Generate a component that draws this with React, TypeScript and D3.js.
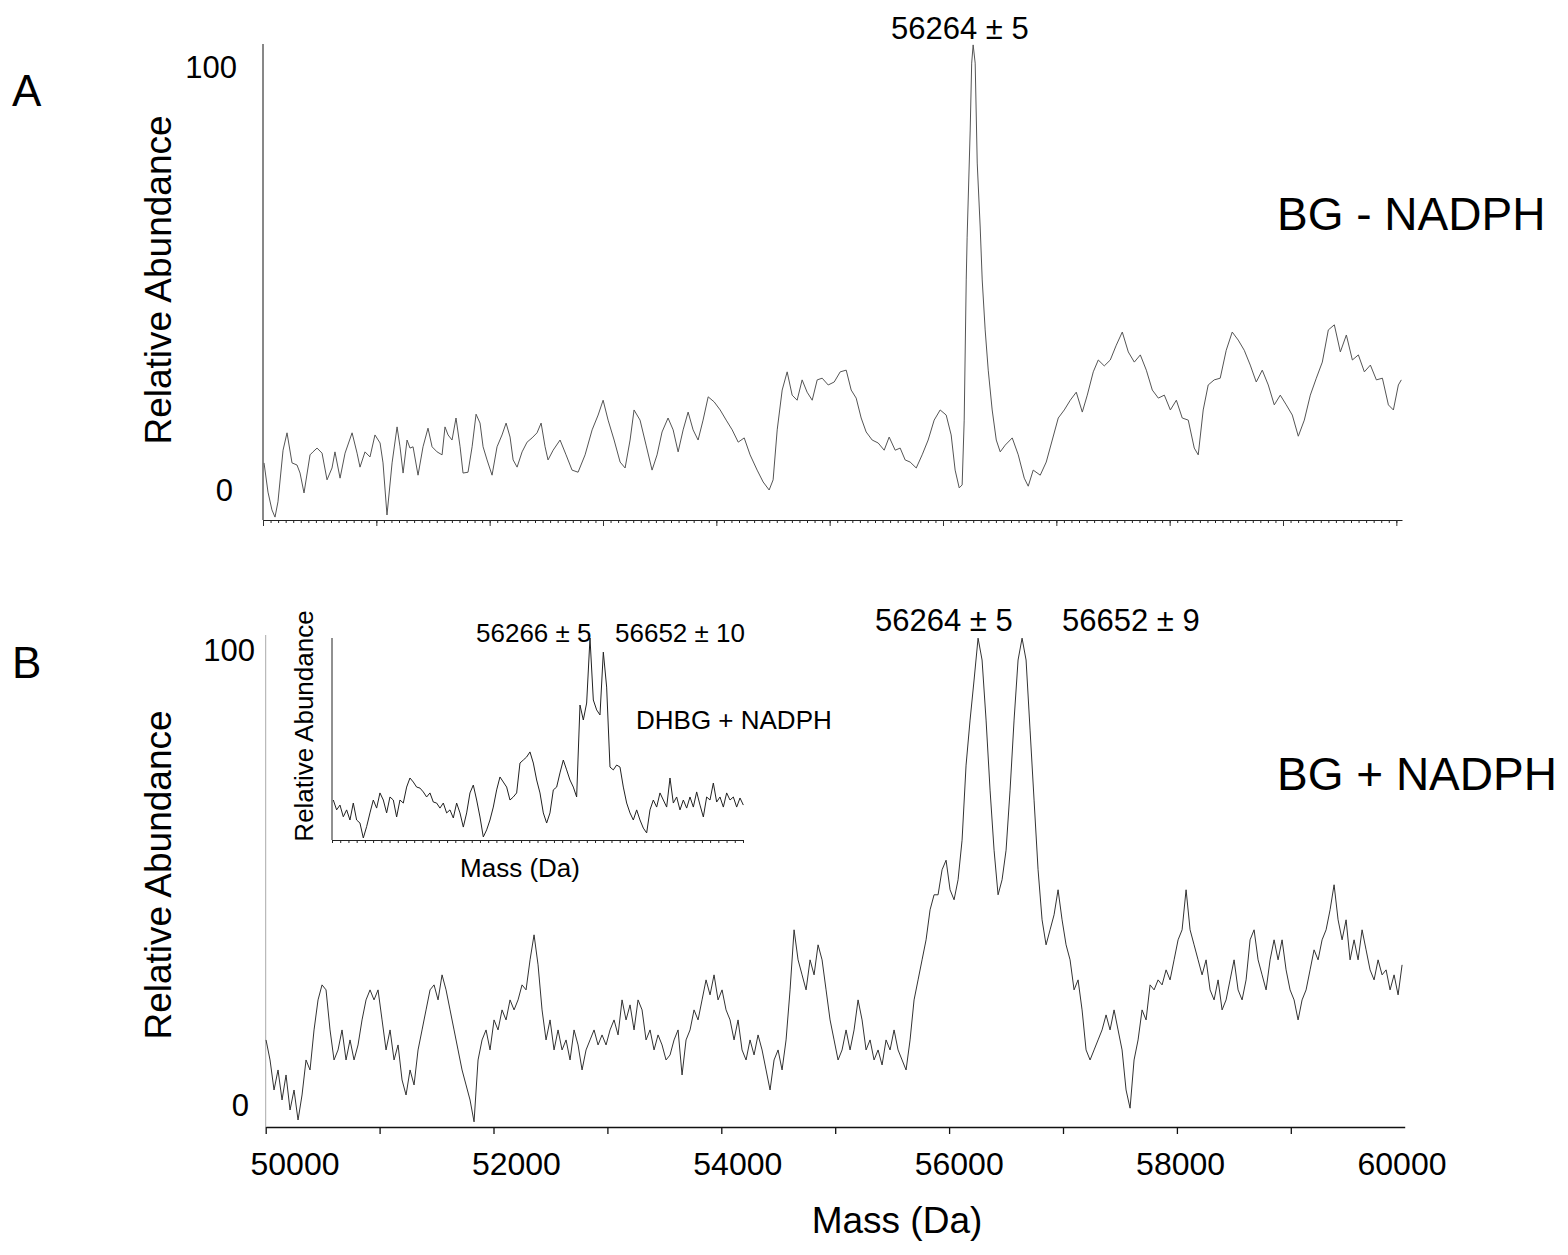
import * as d3 from 'd3';
import React, { useRef, useEffect } from 'react';

// panel A: BG - NADPH (mass in Da, relative abundance in %)
const massA = [50009,50044,50079,50106,50132,50177,50212,50256,50300,50327,50362,50415,50441,50477,50521,50565,50609,50635,50680,50724,50786,50830,50856,50900,50944,50988,51033,51059,51094,51139,51183,51209,51236,51271,51297,51324,51368,51412,51456,51492,51536,51580,51606,51633,51668,51703,51739,51765,51809,51845,51880,51915,51942,51977,52021,52065,52109,52145,52180,52207,52242,52286,52330,52374,52418,52454,52489,52515,52560,52621,52674,52727,52780,52842,52904,52957,53001,53045,53098,53151,53195,53239,53274,53327,53380,53433,53477,53521,53574,53619,53663,53707,53751,53795,53839,53883,53928,53981,54034,54087,54140,54193,54246,54298,54360,54413,54466,54501,54537,54581,54625,54669,54713,54757,54801,54846,54890,54934,54987,55040,55093,55146,55190,55234,55278,55322,55375,55428,55481,55525,55578,55622,55666,55710,55764,55816,55869,55922,55975,56028,56072,56107,56143,56169,56187,56205,56213,56240,56253,56266,56284,56302,56328,56346,56372,56399,56434,56470,56505,56549,56611,56664,56717,56752,56796,56858,56911,56964,57017,57070,57123,57176,57229,57273,57326,57370,57423,57476,57529,57582,57635,57688,57741,57794,57847,57900,57953,58006,58059,58111,58164,58217,58252,58296,58340,58393,58446,58499,58552,58605,58658,58711,58764,58817,58870,58923,58976,59029,59082,59135,59188,59241,59294,59347,59400,59453,59506,59559,59612,59665,59718,59771,59824,59877,59930,59974,60018,60044]
const abundA = [6.4,-0.5,-4.7,-6.4,-2.8,9.4,13.5,6.4,5.9,4.0,-0.7,8.3,9.0,9.9,8.7,2.4,5.2,9.0,2.8,8.7,13.5,8.7,5.4,9.0,7.8,13.0,11.1,6.4,-5.9,6.4,14.9,10.2,4.0,11.8,9.9,10.2,3.5,10.2,14.6,10.2,9.0,8.3,14.9,13.0,11.8,17.0,10.2,4.0,4.2,10.2,17.9,15.8,10.2,7.1,3.5,10.2,13.0,15.8,12.5,7.1,5.4,9.0,11.3,12.3,13.5,15.8,10.2,7.1,9.4,11.8,8.3,4.7,4.2,8.3,14.2,17.7,21.2,16.5,11.8,6.6,5.2,11.8,18.9,16.5,10.6,4.7,8.3,13.7,17.0,14.2,9.0,14.2,18.4,14.2,11.8,16.5,22.0,20.8,18.9,16.5,14.2,11.3,12.3,8.3,4.7,1.9,0,2.4,14.2,23.6,27.9,22.4,21.2,26.0,23.1,21.2,26.0,26.4,24.8,25.5,27.9,28.3,23.6,21.7,17.0,13.7,11.8,11.1,9.4,12.5,9.4,9.9,7.1,6.6,5.2,8.3,11.8,16.5,18.9,17.7,13.0,4.7,0.5,1.2,16.5,49.6,59.7,85.0,100.8,105.1,100.8,77.2,62.1,49.6,37.8,28.3,18.9,11.8,9.0,10.6,12.3,8.3,2.8,0.9,4.7,3.5,6.6,11.8,17.0,18.9,21.2,23.1,18.4,22.4,27.9,30.7,29.3,30.7,34.2,37.3,32.6,30.2,31.9,28.3,23.6,21.7,22.4,18.9,21.2,17.0,16.5,9.9,8.3,18.9,24.8,26.0,26.4,33.0,37.3,35.4,33.0,29.5,25.5,28.3,24.8,20.1,22.4,20.1,17.7,12.7,16.5,22.4,26.4,30.2,37.8,39.0,32.6,36.6,30.7,31.9,27.9,29.5,26.0,26.4,20.1,18.9,24.8,26.0]

// panel B: BG + NADPH, sampled every 35.12 Da from 50003 Da
const startMassB = 50003
const stepMassB = 35.12
const abundB = [
  14.3,9.9,3.3,7.7,1.1,6.6,-1.1,3.3,-3.3,2.2,
  9.9,7.7,16.5,23.1,26.4,25.3,16.5,9.9,12.1,16.5,
  9.9,14.3,9.9,13.2,18.7,23.1,25.3,23.1,25.3,18.7,
  12.1,16.5,9.9,13.2,5.5,2.2,7.7,4.4,12.1,16.5,
  20.9,25.3,26.4,23.1,28.6,25.3,20.9,16.5,12.1,7.7,
  4.4,1.1,-3.7,9.9,14.3,16.5,12.1,18.7,16.5,20.9,
  18.7,23.1,20.9,23.1,26.4,25.3,31.9,37.4,30.8,20.9,
  14.3,18.7,12.1,16.5,12.1,14.3,9.9,16.5,13.2,7.7,
  12.1,14.3,16.5,13.2,15.4,13.2,16.5,18.7,15.4,23.1,
  18.7,22.0,16.5,23.1,20.9,14.3,16.5,12.1,15.4,13.2,
  9.9,11.0,14.3,16.5,6.6,14.3,16.5,20.9,18.7,23.1,
  27.5,24.2,28.6,23.1,25.3,20.9,18.7,14.3,18.7,12.1,
  9.9,14.3,11.0,15.4,12.1,7.7,3.3,9.9,12.1,7.7,
  14.3,25.3,38.5,31.9,28.6,25.3,31.9,28.6,35.2,31.9,
  25.3,18.7,14.3,9.9,12.1,16.5,12.1,16.5,23.1,18.7,
  12.1,14.3,9.9,12.1,8.8,14.3,12.1,16.5,12.1,9.9,
  7.7,14.3,23.1,27.5,31.9,36.3,42.9,46.2,46.2,51.7,
  53.8,47.3,45.1,49.5,58.2,74.7,84.6,93.4,102.6,97.8,
  84.6,69.2,56.0,46.2,49.5,56.0,69.2,84.6,97.8,102.6,
  97.8,82.4,67.0,51.7,40.7,35.2,38.5,41.8,47.3,40.7,
  35.2,31.9,25.3,27.5,20.9,12.1,9.9,12.1,14.3,16.5,
  19.8,16.5,20.9,16.5,12.1,3.3,-0.7,9.9,14.3,20.9,
  18.7,26.4,25.3,27.5,26.4,29.7,27.5,31.9,36.3,38.5,
  47.3,38.5,35.2,31.9,28.6,31.9,25.3,23.1,27.5,20.9,
  23.1,27.5,31.9,25.3,23.1,27.5,36.3,38.5,31.9,28.6,
  25.3,31.9,36.3,31.9,36.3,29.7,25.3,23.1,18.7,23.1,
  25.3,29.7,34.1,31.9,36.3,38.5,42.9,48.4,40.7,36.3,
  40.7,31.9,36.3,31.9,38.5,34.1,29.7,27.5,31.9,28.6,
  29.7,25.3,28.6,24.2,30.8
]

// inset: DHBG + NADPH, sampled every 87.6 Da from 49534 Da
const startMassInset = 49534
const stepMassInset = 87.6
const abundInset = [
  19.8,14.9,17.3,11.5,14.9,9.9,18.3,9.9,8.4,1.0,
  6.6,13.4,19.8,15.8,23.3,19.8,13.4,21.3,19.8,11.4,
  19.8,18.3,26.2,30.7,28.7,26.2,25.7,23.8,21.3,23.3,
  18.8,18.3,15.8,18.3,13.4,14.9,10.9,18.3,13.4,6.4,
  13.4,23.3,27.2,19.8,11.4,1.5,5.0,9.9,16.3,24.8,
  31.2,28.7,26.2,19.8,21.3,23.3,38.1,39.6,41.1,43.6,
  38.1,29.7,23.3,13.4,8.4,13.4,24.8,26.2,33.2,39.6,
  34.7,29.7,26.2,21.3,66.8,59.4,67.8,100,69.3,64.4,
  61.9,93,75.7,36.1,34.7,37.1,36.1,26.2,18.3,13.4,
  9.9,14.9,9.9,5.9,3.5,14.9,19.8,16.3,23.3,19.8,
  16.3,30.7,18.3,21.3,14.9,19.8,15.8,21.3,16.3,23.8,
  17.3,11.4,21.3,19.8,28.2,18.8,21.3,16.3,23.3,19.8,
  21.3,16.3,20.8,17.3
]

const xTickLabels = [50000, 52000, 54000, 56000, 58000, 60000]
const xTicksB = [50000, 51000, 52000, 53000, 54000, 55000, 56000, 57000, 58000, 59000]
const yTickLabels = [0, 100]

const font = "'Liberation Sans', Arial, Helvetica, sans-serif"

export default function App() {
  const ref = useRef(null)

  useEffect(() => {
    drawChart()
  }, [])

  function drawChart() {
    const svg = d3.select(ref.current)
    svg.selectAll('*').remove()
    svg.style('font-family', font)

    const text = (x, y, str, size, anchor = 'start') =>
      svg.append('text')
        .attr('x', x).attr('y', y)
        .attr('font-size', size)
        .attr('text-anchor', anchor)
        .attr('fill', '#000')
        .text(str)

    const vlabel = (x, y, str, size) =>
      svg.append('text')
        .attr('transform', `translate(${x},${y}) rotate(-90)`)
        .attr('font-size', size)
        .attr('text-anchor', 'middle')
        .attr('fill', '#000')
        .text(str)

    // ---------- panel A ----------
    const xA = d3.scaleLinear().domain([50000, 60050]).range([263, 1402])
    const yA = d3.scaleLinear().domain([0, 100]).range([490, 66.5])

    const minorA = d3.range(50000, 60050, 1000 / 15)
    const majorA = d3.range(50000, 60001, 1000)

    svg.append('g')
      .attr('transform', 'translate(0,520)')
      .call(d3.axisBottom(xA).tickValues(minorA).tickSize(3).tickSizeOuter(0).tickFormat(() => ''))
      .call(g => g.selectAll('line, path').attr('stroke', '#222'))
    svg.append('g')
      .attr('transform', 'translate(0,520)')
      .call(d3.axisBottom(xA).tickValues(majorA).tickSize(6).tickSizeOuter(0).tickFormat(() => ''))
      .call(g => g.select('.domain').remove())
      .call(g => g.selectAll('line').attr('stroke', '#333'))

    svg.append('line')
      .attr('x1', 263).attr('x2', 263).attr('y1', 44).attr('y2', 520)
      .attr('stroke', '#111')

    yTickLabels.forEach(v => text(v === 0 ? 233 : 237, yA(v) + 11, String(v), 31, 'end'))

    const lineA = d3.line().x(d => xA(d[0])).y(d => yA(d[1]))
    const dataA = massA.map((m, i) => [m, abundA[i]]).filter(d => d[1] !== undefined)
    svg.append('path')
      .attr('d', lineA(dataA))
      .attr('fill', 'none')
      .attr('stroke', '#555')
      .attr('stroke-width', 1)

    vlabel(171, 280, 'Relative Abundance', 37)
    text(12, 106, 'A', 44)
    text(1277, 230, 'BG - NADPH', 46)
    text(891, 39, '56264 ± 5', 31)

    // ---------- panel B ----------
    const xB = d3.scaleLinear().domain([50000, 60000]).range([265.7, 1404.7])
    const yB = d3.scaleLinear().domain([0, 100]).range([1105, 650])
    // the printed tick numbers sit on a slightly narrower span than the ticks
    const xLabelB = d3.scaleLinear().domain([50000, 60000]).range([295, 1402])

    svg.append('g')
      .attr('transform', 'translate(0,1127)')
      .call(d3.axisBottom(xB).tickValues(xTicksB).tickSize(7).tickSizeOuter(0).tickFormat(() => ''))
      .call(g => g.selectAll('line, path').attr('stroke', '#111').attr('stroke-width', 1.3))

    xTickLabels.forEach(v => text(xLabelB(v), 1175, String(v), 32, 'middle'))

    svg.append('line')
      .attr('x1', 265.7).attr('x2', 265.7).attr('y1', 635).attr('y2', 1127)
      .attr('stroke', '#aaa')

    yTickLabels.forEach(v => text(v === 0 ? 249 : 255, yB(v) + 11, String(v), 31, 'end'))

    const lineB = d3.line().x(d => xB(d[0])).y(d => yB(d[1]))
    const dataB = abundB.map((v, i) => [startMassB + i * stepMassB, v])
    svg.append('path')
      .attr('d', lineB(dataB))
      .attr('fill', 'none')
      .attr('stroke', '#333')
      .attr('stroke-width', 1)

    vlabel(171, 875, 'Relative Abundance', 37)
    text(12, 678, 'B', 44)
    text(1277, 790, 'BG + NADPH', 46)
    text(875, 631, '56264 ± 5', 31)
    text(1062, 631, '56652 ± 9', 31)

    // ---------- inset ----------
    const xI = d3.scaleLinear().domain([49500, 60300]).range([332, 743])
    const yI = d3.scaleLinear().domain([0, 100]).range([840, 638])

    svg.append('g')
      .attr('transform', 'translate(0,840)')
      .call(d3.axisBottom(xI).tickValues(d3.range(49500, 60301, 216)).tickSize(3).tickSizeOuter(0).tickFormat(() => ''))
      .call(g => g.selectAll('line, path').attr('stroke', '#222'))

    svg.append('line')
      .attr('x1', 332).attr('x2', 332).attr('y1', 638).attr('y2', 840)
      .attr('stroke', '#222')

    const lineI = d3.line().x(d => xI(d[0])).y(d => yI(d[1]))
    const dataI = abundInset.map((v, i) => [startMassInset + i * stepMassInset, v])
    svg.append('path')
      .attr('d', lineI(dataI))
      .attr('fill', 'none')
      .attr('stroke', '#222')
      .attr('stroke-width', 1)

    vlabel(313, 726, 'Relative Abundance', 26)
    text(520, 877, 'Mass (Da)', 26, 'middle')
    text(476, 642, '56266 ± 5', 26)
    text(615, 642, '56652 ± 10', 26)
    text(636, 729, 'DHBG + NADPH', 26)

    // shared x title
    text(897, 1233, 'Mass (Da)', 37, 'middle')
  }

  return (
    <svg
      ref={ref}
      width={1568}
      height={1255}
      style={{ position: 'absolute', left: 0, top: 0, background: '#fff', display: 'block' }}
    />
  )
}
